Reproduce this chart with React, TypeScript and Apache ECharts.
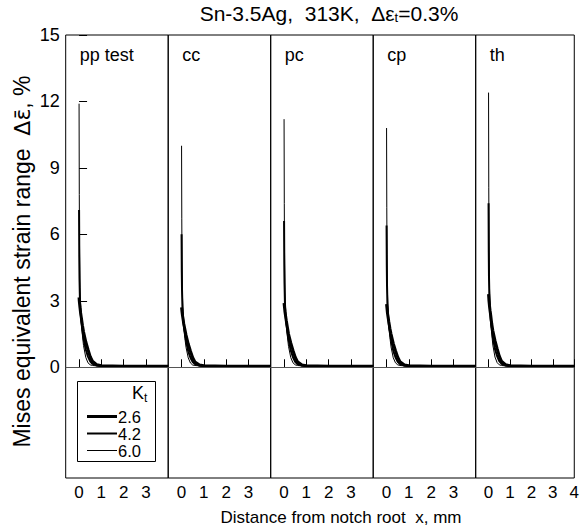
import React, { useEffect, useRef } from "react";
import * as echarts from "echarts";

// distance from notch root, mm
const X = [0, 0.01, 0.02, 0.04, 0.07, 0.1, 0.15, 0.2, 0.3, 0.4, 0.5, 0.6, 0.8, 1.0, 2.0, 4.0];

const PANELS = ["pp test", "cc", "pc", "cp", "th"];
const KT = ["2.6", "4.2", "6.0"];

// Mises equivalent strain range, %
const PP_26 = [3.15, 3.0, 2.9, 2.7, 2.45, 2.25, 1.9, 1.6, 1.15, 0.8, 0.48, 0.27, 0.11, 0.07, 0.05, 0.05];
const PP_42 = [7.1, 5.0, 4.0, 3.0, 2.5, 2.1, 1.65, 1.3, 0.8, 0.48, 0.27, 0.15, 0.08, 0.06, 0.05, 0.05];
const PP_60 = [11.9, 7.8, 5.5, 3.6, 2.6, 2.05, 1.45, 0.98, 0.45, 0.2, 0.11, 0.08, 0.06, 0.05, 0.05, 0.05];

const CC_26 = [2.7, 2.6, 2.5, 2.35, 2.15, 1.95, 1.7, 1.45, 1.05, 0.72, 0.43, 0.24, 0.1, 0.07, 0.05, 0.05];
const CC_42 = [6.0, 4.3, 3.5, 2.7, 2.2, 1.9, 1.5, 1.2, 0.72, 0.43, 0.24, 0.14, 0.08, 0.06, 0.05, 0.05];
const CC_60 = [10.0, 6.7, 4.8, 3.2, 2.3, 1.85, 1.3, 0.9, 0.42, 0.19, 0.1, 0.08, 0.06, 0.05, 0.05, 0.05];

const PC_26 = [2.9, 2.8, 2.7, 2.5, 2.3, 2.1, 1.8, 1.5, 1.1, 0.76, 0.45, 0.25, 0.1, 0.07, 0.05, 0.05];
const PC_42 = [6.6, 4.7, 3.8, 2.85, 2.35, 2.0, 1.58, 1.25, 0.76, 0.45, 0.25, 0.14, 0.08, 0.06, 0.05, 0.05];
const PC_60 = [11.2, 7.4, 5.2, 3.4, 2.45, 1.95, 1.38, 0.94, 0.44, 0.2, 0.11, 0.08, 0.06, 0.05, 0.05, 0.05];

const CP_26 = [2.85, 2.75, 2.65, 2.45, 2.25, 2.05, 1.75, 1.5, 1.08, 0.75, 0.45, 0.25, 0.1, 0.07, 0.05, 0.05];
const CP_42 = [6.4, 4.6, 3.7, 2.8, 2.3, 1.95, 1.55, 1.25, 0.75, 0.45, 0.25, 0.14, 0.08, 0.06, 0.05, 0.05];
const CP_60 = [10.8, 7.2, 5.1, 3.35, 2.4, 1.9, 1.35, 0.92, 0.43, 0.2, 0.11, 0.08, 0.06, 0.05, 0.05, 0.05];

const TH_26 = [3.3, 3.15, 3.0, 2.8, 2.55, 2.35, 1.95, 1.65, 1.2, 0.84, 0.5, 0.28, 0.11, 0.07, 0.05, 0.05];
const TH_42 = [7.4, 5.2, 4.1, 3.1, 2.55, 2.15, 1.7, 1.35, 0.82, 0.5, 0.28, 0.16, 0.08, 0.06, 0.05, 0.05];
const TH_60 = [12.4, 8.1, 5.7, 3.7, 2.7, 2.1, 1.5, 1.0, 0.46, 0.21, 0.11, 0.08, 0.06, 0.05, 0.05, 0.05];

const Y_TICKS = [0, 3, 6, 9, 12, 15];
const X_TICKS = [0, 1, 2, 3];
const X_TICKS_LAST = [0, 1, 2, 3, 4];

const FONT = "Liberation Sans, Arial, Helvetica, sans-serif";

export default function App() {
  const ref = useRef<HTMLDivElement>(null);
  useEffect(() => {
    if (!ref.current) return;
    const chart = echarts.init(ref.current, undefined, { renderer: "svg" });
    const data = [
      [PP_26, PP_42, PP_60],
      [CC_26, CC_42, CC_60],
      [PC_26, PC_42, PC_60],
      [CP_26, CP_42, CP_60],
      [TH_26, TH_42, TH_60],
    ];
    const widths = [3, 2, 1];
    const legendIcons = [
      "path://M0,0H30V3H0Z",
      "path://M0,0H30V2H0Z",
      "path://M0,0H30V1H0Z",
    ];
    const left0 = 65.7;
    const pw = 102.5;
    const top = 35;
    const height = 443;

    const grids = PANELS.map((_, i) => ({
      left: left0 + i * pw,
      width: pw,
      top,
      height,
      show: true,
      borderColor: "#000",
      borderWidth: 1,
      backgroundColor: "transparent",
    }));

    const xAxes = PANELS.map((_, i) => ({
      type: "value",
      gridIndex: i,
      min: -0.6,
      max: 4,
      axisLine: { show: false },
      splitLine: { show: false },
      axisTick: {
        show: true,
        inside: true,
        length: 8,
        lineStyle: { color: "#000", width: 1 },
        customValues: i === PANELS.length - 1 ? X_TICKS_LAST : X_TICKS,
      },
      axisLabel: {
        show: true,
        margin: 6,
        fontSize: 17,
        color: "#000",
        fontFamily: FONT,
        customValues: i === PANELS.length - 1 ? X_TICKS_LAST : X_TICKS,
      },
    }));

    const yAxes = PANELS.map((_, i) => ({
      type: "value",
      gridIndex: i,
      min: -5,
      max: 15,
      axisLine: { show: false },
      splitLine: { show: false },
      axisTick: {
        show: i === 0,
        inside: true,
        length: 8,
        lineStyle: { color: "#000", width: 1 },
        customValues: Y_TICKS,
      },
      axisLabel: {
        show: i === 0,
        margin: 6,
        fontSize: 18,
        color: "#000",
        fontFamily: FONT,
        customValues: Y_TICKS,
      },
      ...(i === 0
        ? {
            name: "{a|Mises equivalent strain range  }{g|\u0394\u03B5\u0304}{a|, %}",
            nameLocation: "middle",
            nameGap: 32,
            nameTextStyle: {
              color: "#000",
              padding: [0, 10, 0, 0],
              rich: {
                a: { fontSize: 23, fontFamily: FONT, color: "#000" },
                g: { fontSize: 22, fontFamily: "DejaVu Sans", color: "#000" },
              },
            },
          }
        : {}),
    }));

    const series: any[] = [];
    PANELS.forEach((_, i) => {
      KT.forEach((kt, k) => {
        series.push({
          type: "line",
          name: kt,
          xAxisIndex: i,
          yAxisIndex: i,
          data: X.map((x, j) => [x, data[i][k][j]]),
          symbol: "none",
          showSymbol: false,
          lineStyle: { color: "#000", width: widths[k] },
          itemStyle: { color: "#000" },
          z: 3,
          ...(k === 0
            ? {
                markLine: {
                  silent: true,
                  symbol: "none",
                  label: { show: false },
                  lineStyle: { color: "#555", width: 1, type: "solid" },
                  data: [{ yAxis: 0 }],
                },
              }
            : {}),
        });
      });
    });

    const graphics: any[] = [
      {
        type: "text",
        x: 329,
        y: 13,
        style: {
          text: "Sn-3.5Ag, \u00A0313K, \u00A0\u0394\u03B5{s|t}=0.3%",
          fontSize: 21,
          fontFamily: FONT,
          fill: "#000",
          align: "center",
          verticalAlign: "middle",
          rich: {
            s: { fontSize: 13, fontFamily: FONT, fill: "#000", padding: [9, 0, 0, 0] },
          },
        },
      },
      {
        type: "text",
        x: 341,
        y: 517,
        style: {
          text: "Distance from notch root \u00A0x, mm",
          align: "center",
          verticalAlign: "middle",
          fontSize: 17,
          fontFamily: FONT,
          fill: "#000",
        },
      },
      ...PANELS.map((p, i) => ({
        type: "text",
        x: left0 + i * pw + 14,
        y: 55,
        style: {
          text: p,
          fontSize: 18,
          fontFamily: FONT,
          fill: "#000",
          verticalAlign: "middle",
        },
      })),
      {
        type: "rect",
        shape: { x: 77.5, y: 381.5, width: 78, height: 80 },
        style: { fill: "#fff", stroke: "#000", lineWidth: 1 },
        z: 10,
      },
      {
        type: "text",
        x: 132,
        y: 393,
        z: 11,
        style: {
          text: "K{s|t}",
          fontSize: 18,
          fontFamily: FONT,
          fill: "#000",
          verticalAlign: "middle",
          rich: {
            s: { fontSize: 12, fontFamily: FONT, fill: "#000", padding: [10, 0, 0, 0] },
          },
        },
      },
    ];

    chart.setOption({
      animation: false,
      backgroundColor: "#fff",
      grid: grids,
      xAxis: xAxes,
      yAxis: yAxes,
      series,
      legend: {
        data: KT.map((name, k) => ({ name, icon: legendIcons[k] })),
        orient: "vertical",
        left: 82,
        top: 403,
        itemWidth: 30,
        itemHeight: 14,
        itemGap: 0,
        symbolKeepAspect: true,
        selectedMode: false,
        z: 12,
        itemStyle: { color: "#000", borderWidth: 0 },
        textStyle: { fontSize: 16.5, color: "#000", fontFamily: FONT, padding: [0, 0, 0, -4] },
      },
      graphic: graphics,
    });
    return () => chart.dispose();
  }, []);
  return (
    <div
      ref={ref}
      style={{ position: "absolute", left: 0, top: 0, width: 582, height: 530 }}
    />
  );
}
